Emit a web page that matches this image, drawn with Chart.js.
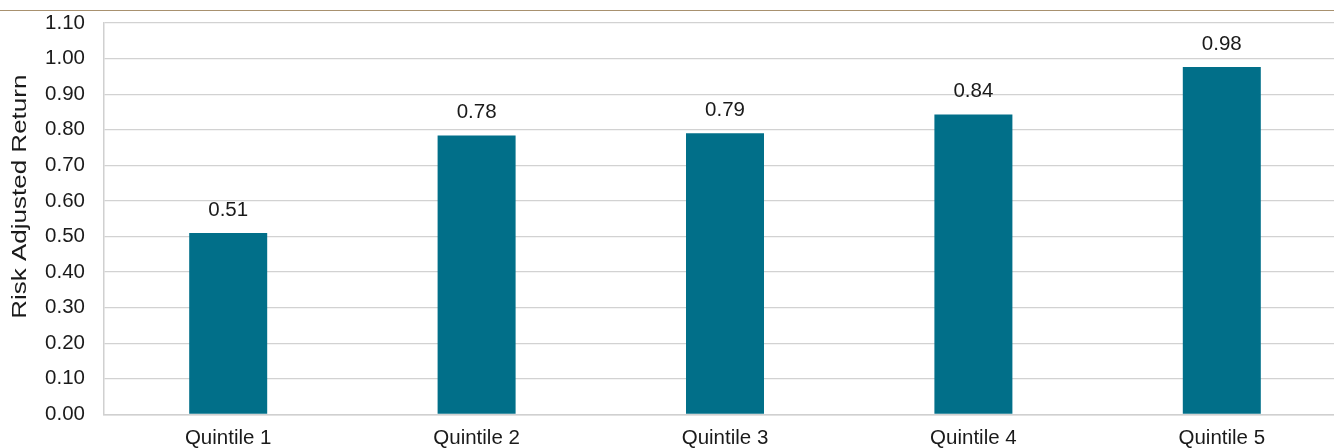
<!DOCTYPE html>
<html>
<head>
<meta charset="utf-8">
<script src="https://cdn.jsdelivr.net/npm/chart.js@4/dist/chart.umd.min.js"></script>
<style>
  html, body { margin: 0; padding: 0; background: #fff; overflow: hidden; }
  #wrap { position: relative; width: 1334px; height: 448px; overflow: hidden; }
  #topline { position: absolute; left: 0; top: 10px; width: 1334px; height: 0; border-top: 1px solid #a8916f; }
  #chart { position: absolute; left: 0; top: 0; }
</style>
</head>
<body>
<div id="wrap">
  <div id="topline"></div>
  <canvas id="chart" width="1346" height="450"></canvas>
</div>
<script>
const categories = ['Quintile 1', 'Quintile 2', 'Quintile 3', 'Quintile 4', 'Quintile 5'];
const riskAdjusted = [0.51, 0.784, 0.79, 0.843, 0.976];
const yTicks = { min: 0, max: 1.1, step: 0.1 };
const yTitle = 'Risk Adjusted Return';

const FONT = 'Arial, "Liberation Sans", sans-serif';
const TEXT = '#1a1a1a';

// value above each bar
const valueLabels = {
    id: 'valueLabels',
    afterDatasetsDraw(chart) {
        const ctx = chart.ctx;
        const meta = chart.getDatasetMeta(0);
        ctx.save();
        ctx.font = '20.5px ' + FONT;
        ctx.fillStyle = TEXT;
        ctx.textAlign = 'center';
        ctx.textBaseline = 'middle';
        meta.data.forEach((bar, i) => {
            ctx.fillText(riskAdjusted[i].toFixed(2), bar.x, bar.y - 23);
        });
        ctx.restore();
    }
};

// rotated y title, drawn a bit stretched like the original
const yAxisTitle = {
    id: 'yAxisTitle',
    afterDraw(chart) {
        const ctx = chart.ctx;
        const area = chart.chartArea;
        ctx.save();
        ctx.translate(20.5, (area.top + area.bottom) / 2 - 22);
        ctx.rotate(-Math.PI / 2);
        ctx.scale(1.3, 1);
        ctx.font = '20px ' + FONT;
        ctx.fillStyle = TEXT;
        ctx.textAlign = 'center';
        ctx.textBaseline = 'middle';
        ctx.fillText(yTitle, 0, 0);
        ctx.restore();
    }
};

const ctx = document.getElementById('chart').getContext('2d');
new Chart(ctx, {
    type: 'bar',
    data: {
        labels: categories,
        datasets: [{
            label: yTitle,
            data: riskAdjusted,
            backgroundColor: '#016f89',
            borderWidth: 0,
            barPercentage: 0.314,
            categoryPercentage: 1
        }]
    },
    options: {
        responsive: false,
        animation: false,
        devicePixelRatio: 1,
        layout: { padding: { top: 23, left: 0, right: 0, bottom: -12 } },
        plugins: { legend: { display: false }, tooltip: { enabled: false } },
        scales: {
            x: {
                grid: { display: false, drawTicks: false },
                border: { color: '#d0d0d0', width: 1.5 },
                ticks: { color: TEXT, font: { family: FONT, size: 20.5 }, padding: 11.5, maxRotation: 0 }
            },
            y: {
                min: yTicks.min,
                max: yTicks.max,
                afterFit(scale) {
                    scale.width = 104;
                    scale.paddingTop = 0;
                    scale.paddingBottom = 0;
                },
                grid: { color: '#d2d2d2', lineWidth: 1.3, drawTicks: false },
                border: { color: '#d0d0d0', width: 1.5 },
                ticks: {
                    stepSize: yTicks.step,
                    padding: 19,
                    color: TEXT,
                    font: { family: FONT, size: 20.5 },
                    callback: v => v.toFixed(2)
                }
            }
        }
    },
    plugins: [valueLabels, yAxisTitle]
});
</script>
</body>
</html>
